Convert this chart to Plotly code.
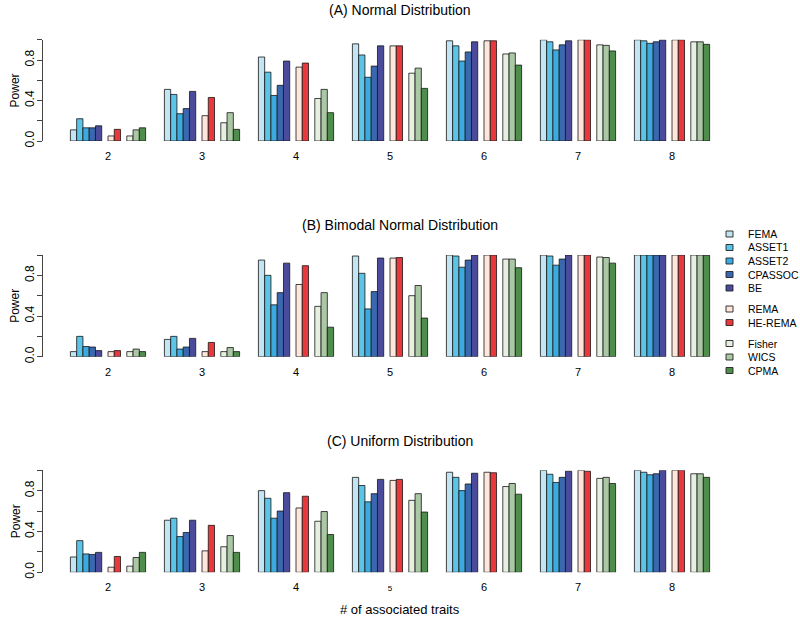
import plotly.graph_objects as go

# ---------------- data ----------------
groups = ["2", "3", "4", "5", "6", "7", "8"]
methods = ["FEMA", "ASSET1", "ASSET2", "CPASSOC", "BE", "REMA", "HE-REMA", "Fisher", "WICS", "CPMA"]
colors = ["#C2E5F3", "#5CC4E6", "#3CA9DF", "#3A67AD", "#4A4B9A",
          "#FDE6DB", "#E8383B", "#E6F0E1", "#AAC8A4", "#4E8D4B"]
slots = [0, 1, 2, 3, 4, 6, 7, 9, 10, 11]   # position of each method inside a group

panel_titles = ["(A) Normal Distribution", "(B) Bimodal Normal Distribution", "(C) Uniform Distribution"]

# Panel A: Normal distribution
A_FEMA    = [0.11, 0.51, 0.83, 0.96, 0.99, 1.00, 1.00]
A_ASSET1  = [0.22, 0.46, 0.68, 0.85, 0.94, 0.98, 0.99]
A_ASSET2  = [0.13, 0.27, 0.45, 0.63, 0.79, 0.90, 0.965]
A_CPASSOC = [0.13, 0.32, 0.55, 0.74, 0.88, 0.95, 0.98]
A_BE      = [0.15, 0.49, 0.79, 0.94, 0.98, 0.99, 1.00]
A_REMA    = [0.05, 0.25, 0.73, 0.94, 0.99, 1.00, 1.00]
A_HEREMA  = [0.115, 0.43, 0.77, 0.94, 0.99, 1.00, 1.00]
A_Fisher  = [0.05, 0.18, 0.42, 0.67, 0.86, 0.95, 0.98]
A_WICS    = [0.11, 0.28, 0.51, 0.72, 0.87, 0.945, 0.98]
A_CPMA    = [0.13, 0.115, 0.28, 0.52, 0.75, 0.89, 0.955]

# Panel B: Bimodal normal distribution
B_FEMA    = [0.05, 0.17, 0.95, 0.99, 1.00, 1.00, 1.00]
B_ASSET1  = [0.20, 0.20, 0.80, 0.82, 0.99, 0.99, 1.00]
B_ASSET2  = [0.10, 0.075, 0.51, 0.47, 0.88, 0.90, 1.00]
B_CPASSOC = [0.095, 0.095, 0.63, 0.64, 0.95, 0.96, 1.00]
B_BE      = [0.06, 0.18, 0.92, 0.97, 1.00, 1.00, 1.00]
B_REMA    = [0.05, 0.05, 0.71, 0.97, 1.00, 1.00, 1.00]
B_HEREMA  = [0.06, 0.14, 0.895, 0.975, 1.00, 1.00, 1.00]
B_Fisher  = [0.05, 0.05, 0.495, 0.60, 0.96, 0.98, 1.00]
B_WICS    = [0.075, 0.09, 0.63, 0.70, 0.96, 0.975, 1.00]
B_CPMA    = [0.05, 0.05, 0.29, 0.38, 0.875, 0.92, 0.997]

# Panel C: Uniform distribution
C_FEMA    = [0.15, 0.51, 0.80, 0.93, 0.98, 1.00, 1.00]
C_ASSET1  = [0.31, 0.53, 0.725, 0.85, 0.93, 0.96, 0.98]
C_ASSET2  = [0.18, 0.35, 0.53, 0.69, 0.80, 0.88, 0.955]
C_CPASSOC = [0.175, 0.39, 0.60, 0.77, 0.865, 0.93, 0.965]
C_BE      = [0.195, 0.51, 0.78, 0.91, 0.97, 0.99, 1.00]
C_REMA    = [0.05, 0.21, 0.63, 0.90, 0.98, 1.00, 1.00]
C_HEREMA  = [0.155, 0.46, 0.745, 0.91, 0.975, 0.99, 1.00]
C_Fisher  = [0.06, 0.25, 0.50, 0.705, 0.84, 0.92, 0.965]
C_WICS    = [0.145, 0.36, 0.595, 0.77, 0.87, 0.93, 0.965]
C_CPMA    = [0.195, 0.195, 0.37, 0.59, 0.765, 0.87, 0.93]

panels = [
    [A_FEMA, A_ASSET1, A_ASSET2, A_CPASSOC, A_BE, A_REMA, A_HEREMA, A_Fisher, A_WICS, A_CPMA],
    [B_FEMA, B_ASSET1, B_ASSET2, B_CPASSOC, B_BE, B_REMA, B_HEREMA, B_Fisher, B_WICS, B_CPMA],
    [C_FEMA, C_ASSET1, C_ASSET2, C_CPASSOC, C_BE, C_REMA, C_HEREMA, C_Fisher, C_WICS, C_CPMA],
]

# ---------------- layout helpers ----------------
W, H = 800, 618
FONT = "Liberation Sans, Arial, sans-serif"
ML, MR = 43, 43
plot_w = W - ML - MR
group_px = 94.0
first_center_px = 108.0
x_left = (ML - first_center_px) / group_px
x_right = (W - MR - first_center_px) / group_px
slot_w = 1.0 / 15.0

# pixel rows (y of value 0 and value 1) for each panel
rows_px = [(141.0, 39.8), (356.7, 255.0), (572.3, 470.2)]

fig = go.Figure()
layout = dict(
    width=W, height=H,
    margin=dict(l=ML, r=MR, t=0, b=0, autoexpand=False),
    paper_bgcolor="white", plot_bgcolor="white",
    barmode="overlay", showlegend=False,
    font=dict(family=FONT, color="black"),
)

for p, vals in enumerate(panels):
    xa = "x" if p == 0 else f"x{p+1}"
    ya = "y" if p == 0 else f"y{p+1}"
    for m, series in enumerate(vals):
        fig.add_trace(go.Bar(
            x=groups, y=series, name=methods[m],
            xaxis=xa, yaxis=ya,
            offset=(slots[m] - 6) * slot_w, width=slot_w,
            marker=dict(color=colors[m], line=dict(color="rgba(25,25,25,0.9)", width=0.9)),
            cliponaxis=False, hoverinfo="x+y+name",
        ))
    y0, y1 = rows_px[p]
    dom = [1 - y0 / H, 1 - y1 / H]
    ticktext = list(groups)
    if p == 2:
        ticktext[3] = "<span style='font-size:8px'>5</span>"
    layout["xaxis" if p == 0 else f"xaxis{p+1}"] = dict(
        domain=[0, 1], anchor=ya, range=[x_left, x_right], automargin=False,
        type="category", tickmode="array", tickvals=groups, ticktext=ticktext,
        showline=False, showgrid=False, zeroline=False, ticks="",
        tickfont=dict(size=11, family=FONT, color="black"), ticklabelstandoff=7,
    )
    layout["yaxis" if p == 0 else f"yaxis{p+1}"] = dict(
        domain=dom, anchor=xa, range=[0, 1], automargin=False,
        tickmode="array", tickvals=[0, 0.2, 0.4, 0.6, 0.8, 1.0],
        ticktext=["0.0", "", "0.4", "", "0.8", ""],
        tickangle=-90, ticks="outside", ticklen=5, tickwidth=1, tickcolor="#444",
        showline=True, linecolor="#444", linewidth=1,
        showgrid=False, zeroline=False,
        tickfont=dict(size=12, family=FONT, color="black"), ticklabelstandoff=-2,
        title=dict(text="Power", font=dict(size=12, family=FONT, color="black"), standoff=0),
    )

fig.update_layout(**layout)

annotations = []
for p, t in enumerate(panel_titles):
    ypx = [10, 225, 441][p]
    annotations.append(dict(text=t, xref="paper", yref="paper", x=0.5, y=1 - ypx / H,
                            xanchor="center", yanchor="middle", showarrow=False,
                            font=dict(size=14, family=FONT, color="black")))
annotations.append(dict(text="# of associated traits", xref="paper", yref="paper",
                        x=0.5, y=1 - 609 / H, xanchor="center", yanchor="middle",
                        showarrow=False, font=dict(size=13, family=FONT, color="black")))

# legend drawn as swatches + labels
legend_y = [234, 247.5, 261, 274.5, 288, 309, 322.5, 343.5, 357, 370.5]
shapes = []
for m, name in enumerate(methods):
    cy = legend_y[m]
    x0 = (726 - ML) / plot_w
    x1 = (733 - ML) / plot_w
    shapes.append(dict(type="rect", xref="paper", yref="paper",
                       x0=x0, x1=x1, y0=1 - (cy + 3) / H, y1=1 - (cy - 3) / H,
                       fillcolor=colors[m], line=dict(color="#222", width=0.9)))
    annotations.append(dict(text=name, xref="paper", yref="paper",
                            x=(746 - ML) / plot_w, y=1 - cy / H,
                            xanchor="left", yanchor="middle", showarrow=False,
                            font=dict(size=10.5, family=FONT, color="black")))

fig.update_layout(annotations=annotations, shapes=shapes)
fig.write_html("out.html", config={"displayModeBar": False},
               post_script="document.body.style.margin='0';document.body.style.overflow='hidden';")
